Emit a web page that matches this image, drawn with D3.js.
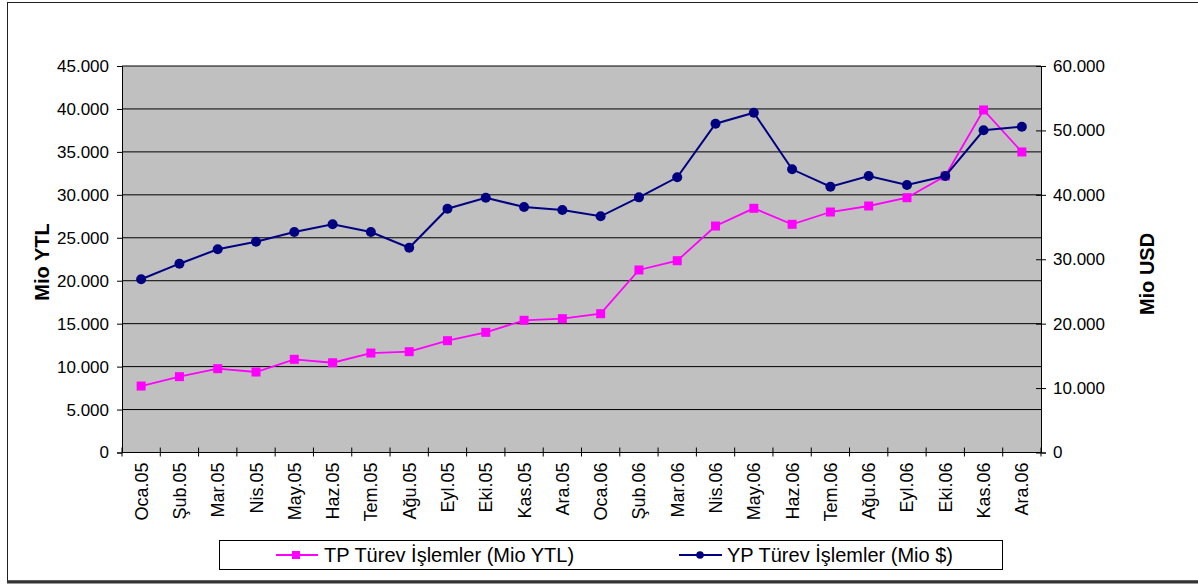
<!DOCTYPE html>
<html>
<head>
<meta charset="utf-8">
<script src="https://cdn.jsdelivr.net/npm/d3@7"></script>
<style>
  html, body { margin: 0; padding: 0; background: #fff; }
  svg { display: block; font-family: "Liberation Sans", Arial, sans-serif; }
</style>
</head>
<body>
<svg id="chart" width="1198" height="584"></svg>
<script>
// ---- data ----
const categories = ["Oca.05","Şub.05","Mar.05","Nis.05","May.05","Haz.05","Tem.05","Ağu.05","Eyl.05","Eki.05","Kas.05","Ara.05",
                    "Oca.06","Şub.06","Mar.06","Nis.06","May.06","Haz.06","Tem.06","Ağu.06","Eyl.06","Eki.06","Kas.06","Ara.06"];
const tpValues = [7740, 8830, 9760, 9370, 10850, 10450, 11580, 11740, 13020, 13990, 15390, 15580,
                  16160, 21250, 22330, 26370, 28430, 26570, 28000, 28700, 29670, 32190, 39880, 34990];
const ypValues = [26890, 29310, 31540, 32720, 34230, 35420, 34230, 31790, 37850, 39550, 38110, 37640,
                  36670, 39610, 42720, 51040, 52750, 43960, 41260, 42920, 41520, 42920, 50020, 50570];
const leftTicks = [0, 5000, 10000, 15000, 20000, 25000, 30000, 35000, 40000, 45000];
const rightTicks = [0, 10000, 20000, 30000, 40000, 50000, 60000];
const tpLabel = "TP Türev İşlemler (Mio YTL)";
const ypLabel = "YP Türev İşlemler (Mio $)";
const leftTitle = "Mio YTL";
const rightTitle = "Mio USD";

// ---- layout ----
const svg = d3.select("#chart");
const L = 122, R = 1041, T = 66, B = 452.5;
const fmt = d3.formatLocale({decimal: ",", thousands: ".", grouping: [3], currency: ["", ""]}).format(",");

const x = d3.scaleBand().domain(categories).range([L, R]).padding(0);
const yL = d3.scaleLinear().domain([0, 45000]).range([B, T]);
const yR = d3.scaleLinear().domain([0, 60000]).range([B, T]);
const cx = d => x(d) + x.bandwidth() / 2;

// outer border
svg.append("rect").attr("x", 7.5).attr("y", 2.5).attr("width", 1200).attr("height", 578.5)
  .attr("fill", "none").attr("stroke", "#222").attr("stroke-width", 1);
svg.append("line").attr("x1", 7).attr("x2", 1198).attr("y1", 582).attr("y2", 582)
  .attr("stroke", "#333").attr("stroke-width", 3);

// plot background
svg.append("rect").attr("x", L).attr("y", T).attr("width", R - L).attr("height", B - T).attr("fill", "#c0c0c0");

// gridlines
svg.append("g").selectAll("line").data(leftTicks.filter(d => d > 0)).join("line")
  .attr("x1", L).attr("x2", R).attr("y1", d => yL(d)).attr("y2", d => yL(d))
  .attr("stroke", "#000").attr("stroke-width", 1);

// left axis
const axL = svg.append("g").attr("transform", `translate(${L},0)`)
  .call(d3.axisLeft(yL).tickValues(leftTicks).tickFormat(fmt).tickSize(5).tickPadding(8));
axL.select(".domain").attr("stroke", "#000");
axL.selectAll("text").attr("font-size", 17).attr("fill", "#000").attr("font-family", "Liberation Sans, Arial, sans-serif");

// right axis (crossing ticks)
const axR = svg.append("g").attr("transform", `translate(${R},0)`)
  .call(d3.axisRight(yR).tickValues(rightTicks).tickFormat(fmt).tickSize(5).tickPadding(7));
axR.select(".domain").attr("stroke", "#000");
axR.selectAll(".tick line").attr("x1", -5);
axR.selectAll("text").attr("font-size", 17).attr("fill", "#000").attr("font-family", "Liberation Sans, Arial, sans-serif");

// bottom axis
svg.append("line").attr("x1", L).attr("x2", R).attr("y1", B).attr("y2", B).attr("stroke", "#000");
const bounds = categories.map(c => x(c)).concat([R]);
svg.append("g").selectAll("line").data(bounds).join("line")
  .attr("x1", d => d).attr("x2", d => d).attr("y1", B - 5).attr("y2", B + 4)
  .attr("stroke", "#000");
svg.append("g").selectAll("text").data(categories).join("text")
  .attr("transform", d => `translate(${cx(d) + 6.5},${B + 10}) rotate(-90)`)
  .attr("text-anchor", "end").attr("font-size", 18).attr("fill", "#000")
  .text(d => d);

// axis titles
svg.append("text").attr("transform", `translate(${49},${262}) rotate(-90)`)
  .attr("text-anchor", "middle").attr("font-size", 20).attr("font-weight", "bold").text(leftTitle);
svg.append("text").attr("transform", `translate(${1154},${274}) rotate(-90)`)
  .attr("text-anchor", "middle").attr("font-size", 20).attr("font-weight", "bold").text(rightTitle);

// TP line (left axis)
const lineTP = d3.line().x((d, i) => cx(categories[i])).y(d => yL(d));
svg.append("path").datum(tpValues).attr("d", lineTP).attr("fill", "none")
  .attr("stroke", "#ff00ff").attr("stroke-width", 1.8);
svg.append("g").selectAll("rect").data(tpValues).join("rect")
  .attr("x", (d, i) => cx(categories[i]) - 4.5).attr("y", d => yL(d) - 4.5)
  .attr("width", 9).attr("height", 9).attr("fill", "#ff00ff");

// YP line (right axis)
const lineYP = d3.line().x((d, i) => cx(categories[i])).y(d => yR(d));
svg.append("path").datum(ypValues).attr("d", lineYP).attr("fill", "none")
  .attr("stroke", "#000080").attr("stroke-width", 2);
svg.append("g").selectAll("circle").data(ypValues).join("circle")
  .attr("cx", (d, i) => cx(categories[i])).attr("cy", d => yR(d)).attr("r", 5)
  .attr("fill", "#000080");

// legend
const lg = svg.append("g");
lg.append("rect").attr("x", 219.5).attr("y", 540.5).attr("width", 783).attr("height", 29)
  .attr("fill", "#fff").attr("stroke", "#000");
lg.append("line").attr("x1", 276).attr("x2", 318).attr("y1", 555).attr("y2", 555).attr("stroke", "#ff00ff").attr("stroke-width", 1.8);
lg.append("rect").attr("x", 292).attr("y", 551).attr("width", 8).attr("height", 8).attr("fill", "#ff00ff");
lg.append("text").attr("x", 324).attr("y", 562).attr("font-size", 20).text(tpLabel);
lg.append("line").attr("x1", 679).attr("x2", 722).attr("y1", 555).attr("y2", 555).attr("stroke", "#000080").attr("stroke-width", 2);
lg.append("circle").attr("cx", 700).attr("cy", 555).attr("r", 3.8).attr("fill", "#000080");
lg.append("text").attr("x", 727).attr("y", 562).attr("font-size", 20).text(ypLabel);
</script>
</body>
</html>
